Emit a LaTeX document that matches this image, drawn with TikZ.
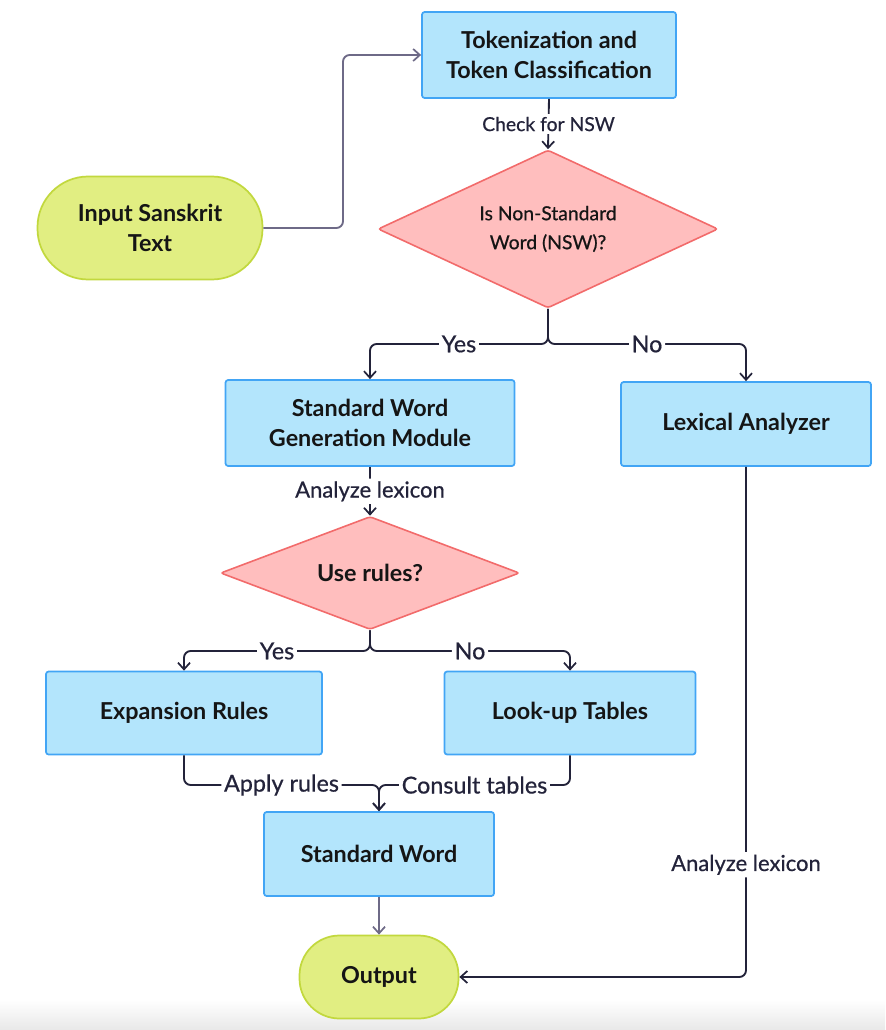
\documentclass[tikz,border=0pt]{standalone}
\usepackage{fontspec}
\setmainfont{Lato}
\newfontfamily\medfont{Lato}[FakeBold=0.6]
\usetikzlibrary{shapes.geometric,arrows.meta}
\definecolor{boxfill}{HTML}{B3E5FC}
\definecolor{boxline}{HTML}{42A5F5}
\definecolor{decfill}{HTML}{FFBEBE}
\definecolor{decline}{HTML}{F26B6B}
\definecolor{termfill}{HTML}{E1EE82}
\definecolor{termline}{HTML}{C2D83E}
\definecolor{edgedark}{HTML}{23233A}
\definecolor{edgegray}{HTML}{6E6A87}
\definecolor{txt}{HTML}{151515}
\begin{document}
\begin{tikzpicture}[x=0.75pt,y=-0.75pt,
  proc/.style={rectangle, draw=boxline, fill=boxfill, line width=1.3pt, rounded corners=2pt,
    align=center, text=txt, font=\fontsize{17.5}{23}\selectfont\bfseries, inner sep=0pt},
  dec/.style={diamond, draw=decline, fill=decfill, line width=1.2pt, rounded corners=2pt,
    align=center, text=txt, inner sep=0pt},
  term/.style={rectangle, draw=termline, fill=termfill, line width=1.3pt,
    align=center, text=txt, font=\fontsize{17.5}{23}\selectfont\bfseries, inner sep=0pt},
  edge/.style={draw=edgedark, line width=1.4pt, rounded corners=5pt,
    -{Straight Barb[length=5pt,width=9pt,line width=1.3pt]}},
  elabel/.style={fill=white, text=edgedark, inner sep=2pt,
    font=\medfont\fontsize{17.5}{20}\selectfont},
  small/.style={font=\medfont\fontsize{14.5}{16}\selectfont},
  mid/.style={font=\medfont\fontsize{16.5}{18}\selectfont}
]
\useasboundingbox (0,0) rectangle (885,1030);
\shade[top color=white, bottom color=black!9] (0,1000) rectangle (885,1030);

% nodes
\node[proc, minimum width=190.5pt, minimum height=64.5pt] (tok) at (549,55)
  {Tokenization and\\Token Classification};
\node[term, rounded corners=38pt, minimum width=168.75pt, minimum height=77.25pt] (in) at (150,228)
  {Input Sanskrit\\Text};
\node[dec, shape aspect=2.15, minimum width=255pt, minimum height=118.5pt,
  font=\medfont\fontsize{14.5}{21.75}\selectfont] (d1) at (548,229)
  {Is Non-Standard\\Word (NSW)?};
\node[proc, minimum width=216.75pt, minimum height=64.5pt] (sw) at (370,423)
  {Standard Word\\Generation Module};
\node[proc, minimum width=187.5pt, minimum height=63pt] (lex) at (746,424)
  {Lexical Analyzer};
\node[dec, shape aspect=2.65, minimum width=224.25pt, minimum height=84.75pt,
  font=\fontsize{17.5}{20}\selectfont\bfseries] (d2) at (370,573)
  {Use rules?};
\node[proc, minimum width=207pt, minimum height=62.25pt] (exp) at (184,713)
  {Expansion Rules};
\node[proc, minimum width=188.25pt, minimum height=62.25pt] (look) at (570,713)
  {Look-up Tables};
\node[proc, minimum width=172.5pt, minimum height=63pt] (stw) at (379,854)
  {Standard Word};
\node[term, rounded corners=30pt, minimum width=119.25pt, minimum height=62.25pt] (out) at (379,977)
  {Output};

% junction coordinates
\coordinate (c1) at (343,228);
\coordinate (j1) at (548,344);
\coordinate (j2) at (370,651);
\coordinate (j3) at (379,785);

% connectors
\draw[edge, draw=edgegray] (in.east) -- (c1) |- (tok.west);
\draw[edge] (tok.south) -- node[elabel, small]{Check for NSW} (d1.north);
\draw[edge] (d1.south) -- (j1) -| node[elabel, pos=0.25]{Yes} (sw.north);
\draw[edge] (d1.south) -- (j1) -| node[elabel, pos=0.25]{No} (lex.north);
\draw[edge] (sw.south) -- node[elabel, mid]{Analyze lexicon} (d2.north);
\draw[edge] (d2.south) -- (j2) -| node[elabel, pos=0.25]{Yes} (exp.north);
\draw[edge] (d2.south) -- (j2) -| node[elabel, pos=0.25]{No} (look.north);
\draw[edge] (exp.south) |- node[elabel, pos=0.75]{Apply rules} (j3) -- (stw.north);
\draw[edge] (look.south) |- node[elabel, pos=0.75]{Consult tables} (j3) -- (stw.north);
\draw[edge, draw=edgegray] (stw.south) -- (out.north);
\draw[edge] (lex.south) |- node[elabel, mid, pos=0.39]{Analyze lexicon} (out.east);
\end{tikzpicture}
\end{document}
